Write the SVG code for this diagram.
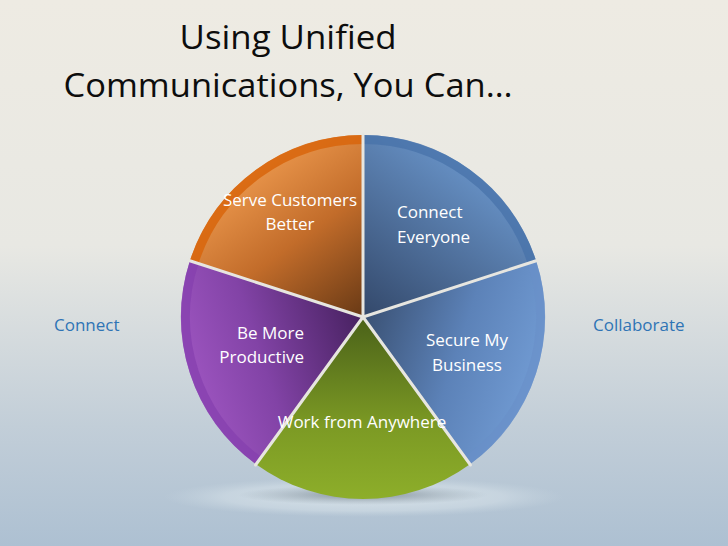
<svg xmlns="http://www.w3.org/2000/svg" width="728" height="546" viewBox="0 0 728 546">
<defs>
<style>
.title{font-family:"Open Sans","Noto Sans",sans-serif;font-size:32px;fill:#0d0d0d;text-anchor:middle}
.lbl{font-family:"Open Sans","Noto Sans",sans-serif;font-size:17px;fill:#ffffff}
.side{font-family:"Open Sans","Noto Sans",sans-serif;font-size:17px;fill:#2F74B5}
.sep{stroke:#E7E6E0;stroke-width:3;fill:none;stroke-linecap:round}
.rim{fill:none;stroke-width:9}
</style>
<linearGradient id="bg" x1="0" y1="0" x2="0" y2="1">
<stop offset="0" stop-color="#EEEBE3"/>
<stop offset="0.45" stop-color="#E8E8E3"/>
<stop offset="0.78" stop-color="#C2CED8"/>
<stop offset="1" stop-color="#ADC0D2"/>
</linearGradient>
<radialGradient id="plat" cx="0.5" cy="0.5" r="0.5">
<stop offset="0" stop-color="#DCE6EC" stop-opacity="0.9"/>
<stop offset="0.7" stop-color="#D2DEE6" stop-opacity="0.6"/>
<stop offset="1" stop-color="#C8D6E0" stop-opacity="0"/>
</radialGradient>
<radialGradient id="shad" cx="0.5" cy="0.5" r="0.5">
<stop offset="0" stop-color="#5E6C78" stop-opacity="0.7"/>
<stop offset="1" stop-color="#7E8E9A" stop-opacity="0"/>
</radialGradient>
<linearGradient id="gBlue" gradientUnits="userSpaceOnUse" x1="363" y1="317" x2="469.98" y2="169.76">
<stop offset="0" stop-color="#33486A"/>
<stop offset="1" stop-color="#6690C4"/>
</linearGradient>
<linearGradient id="gLBlue" gradientUnits="userSpaceOnUse" x1="363" y1="317" x2="536.09" y2="373.24">
<stop offset="0" stop-color="#3A5174"/>
<stop offset="0.55" stop-color="#5C82B8"/>
<stop offset="1" stop-color="#709AD2"/>
</linearGradient>
<linearGradient id="gGreen" gradientUnits="userSpaceOnUse" x1="363" y1="317" x2="363" y2="499">
<stop offset="0" stop-color="#4A6119"/>
<stop offset="0.6" stop-color="#7C9A24"/>
<stop offset="1" stop-color="#8DAE2A"/>
</linearGradient>
<linearGradient id="gPurple" gradientUnits="userSpaceOnUse" x1="363" y1="317" x2="189.91" y2="373.24">
<stop offset="0" stop-color="#472160"/>
<stop offset="0.6" stop-color="#8243A6"/>
<stop offset="1" stop-color="#9C54BF"/>
</linearGradient>
<linearGradient id="gOrange" gradientUnits="userSpaceOnUse" x1="363" y1="317" x2="256.02" y2="169.76">
<stop offset="0" stop-color="#683915"/>
<stop offset="0.55" stop-color="#C26C2A"/>
<stop offset="1" stop-color="#E8944A"/>
</linearGradient>
</defs>

<rect width="728" height="546" fill="url(#bg)"/>

<g id="title">
<text class="title" x="288" y="49" textLength="217" lengthAdjust="spacingAndGlyphs">Using Unified</text>
<text class="title" x="288" y="97" textLength="449" lengthAdjust="spacingAndGlyphs">Communications, You Can…</text>
</g>

<g id="platform">
<ellipse cx="364" cy="497" rx="200" ry="20" fill="url(#plat)"/>
<ellipse cx="363" cy="495" rx="125" ry="10" fill="url(#shad)"/>
</g>

<g id="connect-everyone">
<path d="M363,317 L363,135 A182,182 0 0 1 536.09,260.76 Z" fill="url(#gBlue)"/>
<path d="M363,139.5 A177.5,177.5 0 0 1 531.8,262.2" class="rim" stroke="#4670A8" stroke-opacity="0.7"/>
<text class="lbl" x="397" y="218">Connect</text>
<text class="lbl" x="397" y="243">Everyone</text>
</g>

<g id="secure-my-business">
<path d="M363,317 L536.09,260.76 A182,182 0 0 1 469.98,464.24 Z" fill="url(#gLBlue)"/>
<path d="M531.8,262.2 A177.5,177.5 0 0 1 467.3,460.6" class="rim" stroke="#6990C8" stroke-opacity="0.6"/>
<text class="lbl" x="467" y="346" text-anchor="middle">Secure My</text>
<text class="lbl" x="467" y="371" text-anchor="middle">Business</text>
</g>

<g id="work-from-anywhere">
<path d="M363,317 L469.98,464.24 A182,182 0 0 1 256.02,464.24 Z" fill="url(#gGreen)"/>
</g>

<g id="be-more-productive">
<path d="M363,317 L256.02,464.24 A182,182 0 0 1 189.91,260.76 Z" fill="url(#gPurple)"/>
<path d="M258.7,460.6 A177.5,177.5 0 0 1 194.2,262.2" class="rim" stroke="#853FAE" stroke-opacity="0.7"/>
<text class="lbl" x="304" y="339" text-anchor="end">Be More</text>
<text class="lbl" x="304" y="363" text-anchor="end">Productive</text>
</g>

<g id="serve-customers-better">
<path d="M363,317 L189.91,260.76 A182,182 0 0 1 363,135 Z" fill="url(#gOrange)"/>
<path d="M194.2,262.2 A177.5,177.5 0 0 1 363,139.5" class="rim" stroke="#D8650C" stroke-opacity="0.85"/>
<text class="lbl" x="290" y="206" text-anchor="middle">Serve Customers</text>
<text class="lbl" x="290" y="230" text-anchor="middle">Better</text>
</g>

<g id="separators">
<line class="sep" x1="363" y1="317" x2="363" y2="134"/>
<line class="sep" x1="363" y1="317" x2="537" y2="260.5"/>
<line class="sep" x1="363" y1="317" x2="470.5" y2="465"/>
<line class="sep" x1="363" y1="317" x2="255.5" y2="465"/>
<line class="sep" x1="363" y1="317" x2="189" y2="260.5"/>
</g>

<g id="work-label">
<text class="lbl" x="362" y="428" text-anchor="middle">Work from Anywhere</text>
</g>

<g id="side-labels">
<text class="side" x="54" y="331">Connect</text>
<text class="side" x="593" y="331">Collaborate</text>
</g>
</svg>
